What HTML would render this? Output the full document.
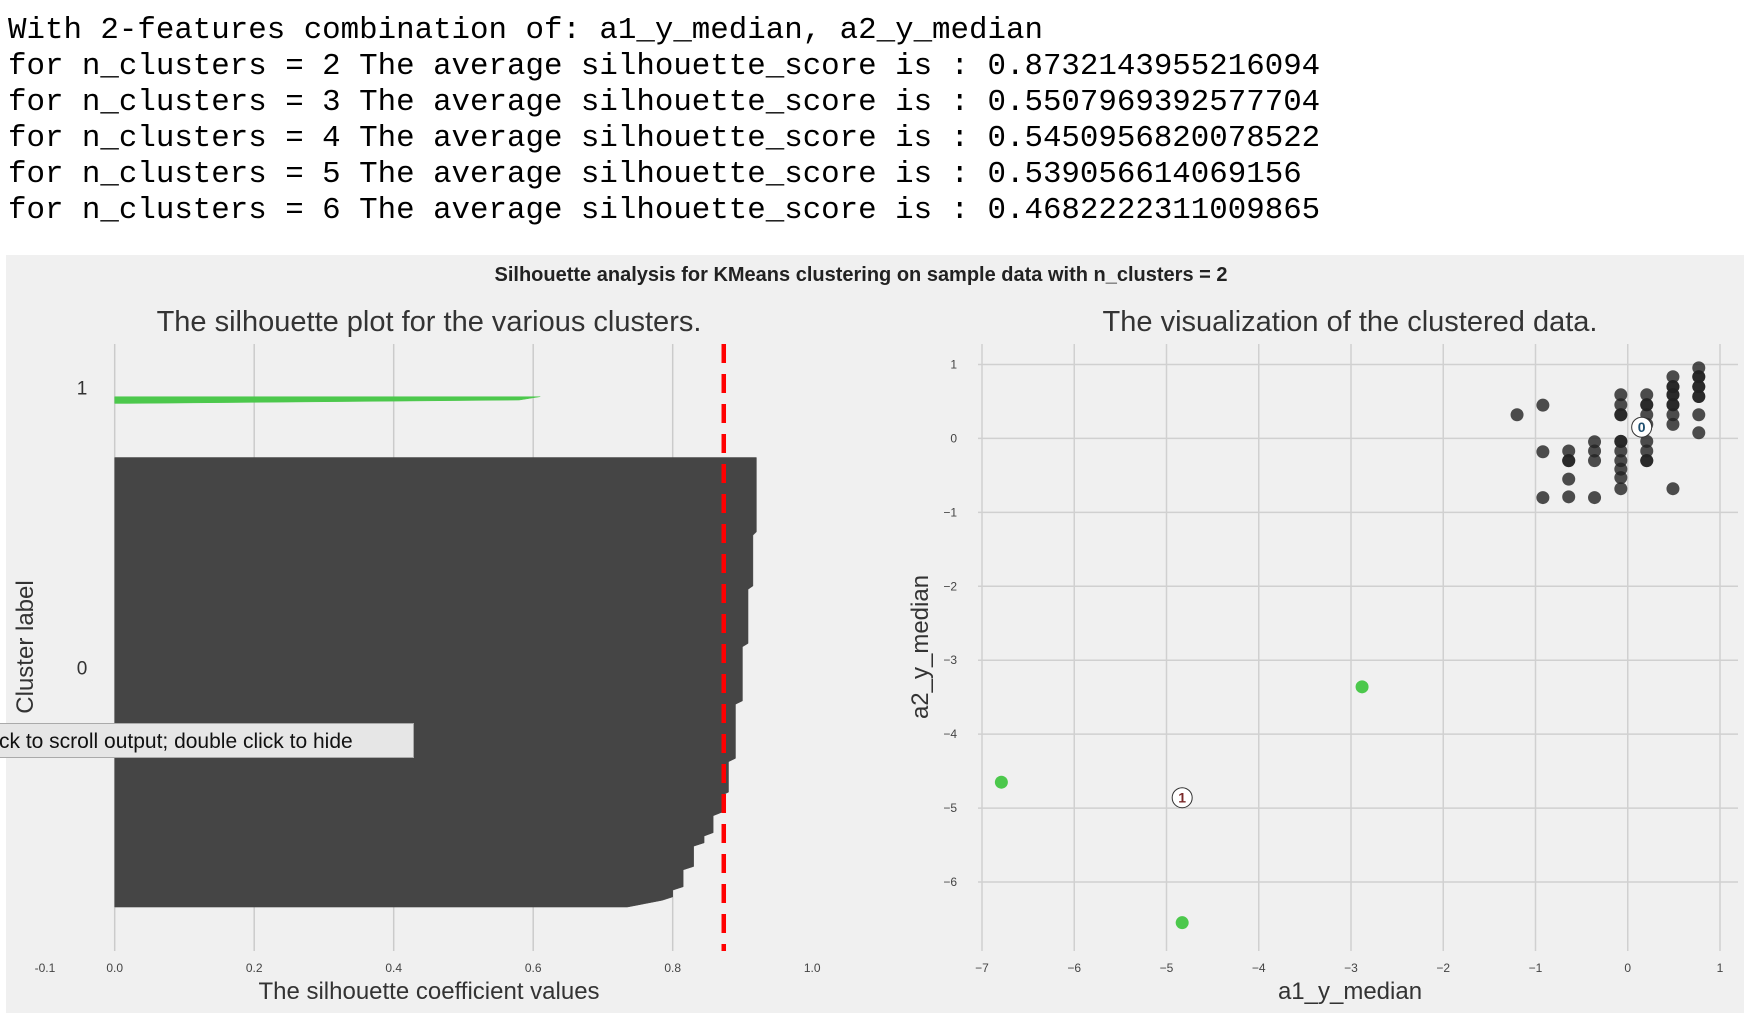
<!DOCTYPE html>
<html><head><meta charset="utf-8"><style>
body{margin:0;width:1756px;height:1026px;background:#fff;overflow:hidden;position:relative}
#out{position:absolute;left:8px;top:13px;font-family:"Liberation Mono",monospace;font-size:30.8px;line-height:36px;color:#000;white-space:pre}
svg{position:absolute;left:0;top:0}
#tip{position:absolute;left:-2px;top:723px;width:416px;height:35px;background:#e6e6e6;border:1px solid #aaa;font-family:"Liberation Sans",sans-serif;font-size:21px;line-height:35px;white-space:nowrap;overflow:hidden;box-sizing:border-box;color:#111}
</style></head><body>
<div id="out">With 2-features combination of: a1_y_median, a2_y_median
for n_clusters = 2 The average silhouette_score is : 0.8732143955216094
for n_clusters = 3 The average silhouette_score is : 0.5507969392577704
for n_clusters = 4 The average silhouette_score is : 0.5450956820078522
for n_clusters = 5 The average silhouette_score is : 0.539056614069156
for n_clusters = 6 The average silhouette_score is : 0.4682222311009865</div>
<svg id="fig" width="1756" height="1026" font-family="Liberation Sans, sans-serif"></svg>
<div id="tip">ck to scroll output; double click to hide</div>
<script>
const silXTicks=[-0.1,0.0,0.2,0.4,0.6,0.8,1.0];
const sil0Values=[0.735,0.76,0.785,0.80,0.815,0.83,0.845,0.858,0.87,0.88,0.89,0.90,0.908,0.915,0.92];
const sil0Counts=[1,1,1,3,6,7,3,6,6,10,17,17,17,16,23];
const sil1Values=[0.02,0.58,0.61];
const avgScore=0.8732143955216094;
const scXTicks=[-7,-6,-5,-4,-3,-2,-1,0,1];
const scYTicks=[1,0,-1,-2,-3,-4,-5,-6];
const c0X=[-1.2,-0.92,-0.92,-0.92,-0.64,-0.64,-0.64,-0.64,-0.64,-0.36,-0.36,-0.36,-0.36,-0.075,-0.075,-0.075,-0.075,-0.075,-0.075,-0.075,-0.075,-0.075,-0.075,-0.075,0.206,0.206,0.206,0.206,0.206,0.206,0.206,0.206,0.206,0.49,0.49,0.49,0.49,0.49,0.49,0.49,0.49,0.49,0.49,0.77,0.77,0.77,0.77,0.77,0.77,0.77,0.77,0.77];
const c0Y=[0.32,0.45,-0.18,-0.80,-0.17,-0.30,-0.30,-0.55,-0.79,-0.045,-0.17,-0.30,-0.80,0.59,0.455,0.32,0.32,-0.04,-0.04,-0.17,-0.30,-0.415,-0.53,-0.68,0.59,0.455,0.455,0.32,0.19,-0.04,-0.17,-0.30,-0.30,0.835,0.70,0.70,0.59,0.59,0.455,0.455,0.32,0.19,-0.68,0.955,0.835,0.835,0.70,0.70,0.567,0.567,0.32,0.076];
const c1X=[-6.79,-4.83,-2.88];
const c1Y=[-4.65,-6.55,-3.36];
const centerX=[0.151,-4.83];
const centerY=[0.152,-4.86];
const NS='http://www.w3.org/2000/svg';
const svg=document.getElementById('fig');
function el(t,a,txt){const e=document.createElementNS(NS,t);for(const k in a)e.setAttribute(k,a[k]);if(txt!==undefined)e.textContent=txt;svg.appendChild(e);return e;}
let e;
e=el('rect',{x:6,y:255,width:1738,height:758,fill:'#f0f0f0'});


e=el('text',{x:861,y:281,'text-anchor':'middle','font-size':20,'font-weight':'bold',fill:'#222'},'Silhouette analysis for KMeans clustering on sample data with n_clusters = 2');


const L={x0:45,x1:812,y0:344,y1:951};
const sx=v=>114.7+v*697.5;
const UNIT=3.38;
const sy=u=>951-u*UNIT;
[0,0.2,0.4,0.6,0.8].forEach(v=>{e=el('line',{x1:sx(v),x2:sx(v),y1:L.y0,y2:L.y1,stroke:'#cbcbcb','stroke-width':1.5});

});
silXTicks.forEach(v=>{e=el('text',{x:sx(v),y:972,'text-anchor':'middle','font-size':12,fill:'#444'},v.toFixed(1));

});
function silPath(vals,counts,yl){const pts=[];let u=yl;const first=u;vals.forEach((v,i)=>{const c=counts?counts[i]:1;if(c===1){pts.push([sx(v),sy(u)]);}else{pts.push([sx(v),sy(u)]);pts.push([sx(v),sy(u+c-1)]);}u+=c;});const last=u-1;
return {d:'M'+sx(0)+','+sy(first)+'L'+pts.map(p=>p.join(',')).join('L')+'L'+sx(0)+','+sy(last)+'Z',top:u};}
let yl=13;
const p0=silPath(sil0Values,sil0Counts,yl);
e=el('path',{d:p0.d,fill:'#454545',stroke:'#454545','stroke-width':0.5});


e=el('text',{x:82,y:sy((yl+p0.top)/2)-6,'text-anchor':'middle','font-size':19,fill:'#333'},'0');


yl=p0.top+15;
const p1=silPath(sil1Values,null,yl);
e=el('path',{d:p1.d,fill:'#4cc84c',stroke:'#4cc84c','stroke-width':0.5});


e=el('text',{x:82,y:sy((yl+p1.top)/2)-4,'text-anchor':'middle','font-size':19,fill:'#333'},'1');


e=el('line',{x1:sx(avgScore),x2:sx(avgScore),y1:L.y0,y2:L.y1,stroke:'#ff0000','stroke-width':4.5,'stroke-dasharray':'19,11'});


e=el('text',{x:429,y:331,'text-anchor':'middle','font-size':29,fill:'#333'},'The silhouette plot for the various clusters.');


e=el('text',{x:429,y:999,'text-anchor':'middle','font-size':24,fill:'#333'},'The silhouette coefficient values');


e=el('text',{x:0,y:0,'text-anchor':'middle','font-size':24,fill:'#333',transform:'translate(33,647) rotate(-90)'},'Cluster label');


const R={x0:982,x1:1738,y0:344,y1:951};
const px=v=>982+(v+7)*92.25;
const py=v=>364.5+(1-v)*73.93;
scXTicks.forEach(v=>{e=el('line',{x1:px(v),x2:px(v),y1:R.y0,y2:R.y1,stroke:'#d0d0d0','stroke-width':1.5});


e=el('text',{x:px(v),y:972,'text-anchor':'middle','font-size':12,fill:'#444'},v<0?'\u2212'+(-v):String(v));

});
scYTicks.forEach(v=>{e=el('line',{x1:R.x0-4,x2:R.x1,y1:py(v),y2:py(v),stroke:'#d0d0d0','stroke-width':1.5});


e=el('text',{x:957,y:py(v)+4,'text-anchor':'end','font-size':12,fill:'#444'},v<0?'\u2212'+(-v):String(v));

});
c0X.forEach((x,i)=>{e=el('circle',{cx:px(x),cy:py(c0Y[i]),r:6.5,fill:'#222','fill-opacity':0.8});

});
c1X.forEach((x,i)=>{e=el('circle',{cx:px(x),cy:py(c1Y[i]),r:6.5,fill:'#4cc84c'});

});
centerX.forEach((x,i)=>{e=el('circle',{cx:px(x),cy:py(centerY[i]),r:10,fill:'#fff',stroke:'#333','stroke-width':1});


e=el('text',{x:px(x),y:py(centerY[i])+5,'text-anchor':'middle','font-size':14,'font-weight':'bold',fill:i?'#7a2a2a':'#1f4f6f'},String(i));

});
e=el('text',{x:1350,y:331,'text-anchor':'middle','font-size':29,fill:'#333'},'The visualization of the clustered data.');


e=el('text',{x:1350,y:999,'text-anchor':'middle','font-size':24,fill:'#333'},'a1_y_median');


e=el('text',{x:0,y:0,'text-anchor':'middle','font-size':24,fill:'#333',transform:'translate(928,647) rotate(-90)'},'a2_y_median');


</script>
</body></html>
